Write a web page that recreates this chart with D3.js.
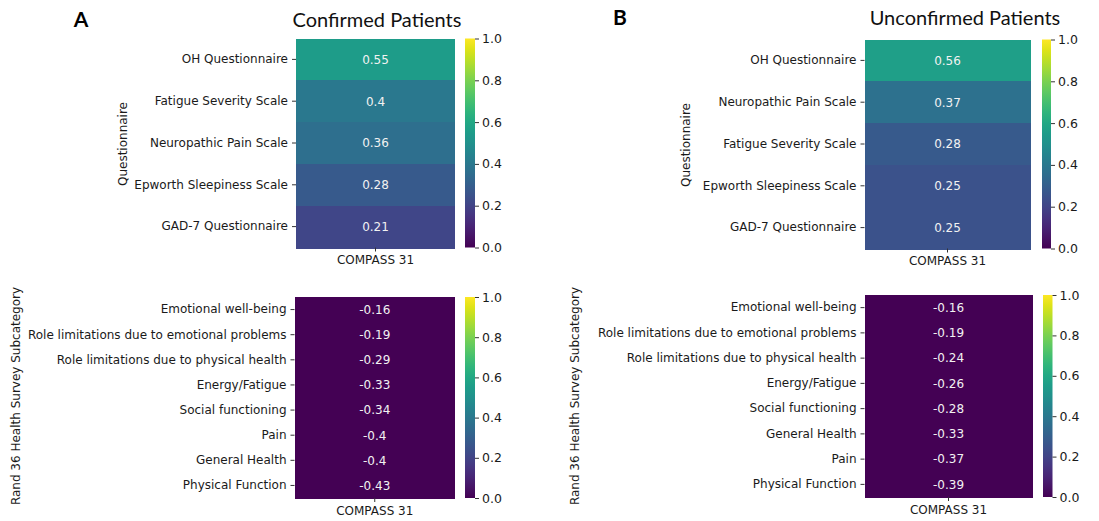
<!DOCTYPE html>
<html>
<head>
<meta charset="utf-8">
<script src="https://cdn.jsdelivr.net/npm/d3@7"></script>
<style>
  body { margin: 0; background: #fff; }
  svg text { font-family: "DejaVu Sans", sans-serif; }
</style>
</head>
<body>
<script>
// data
var column = ["COMPASS 31"];
var colorbarTicks = [0, 0.2, 0.4, 0.6, 0.8, 1.0];

var confirmedQuestions = ["OH Questionnaire", "Fatigue Severity Scale", "Neuropathic Pain Scale", "Epworth Sleepiness Scale", "GAD-7 Questionnaire"];
var confirmedQuestionValues = [0.55, 0.4, 0.36, 0.28, 0.21];

var confirmedRand = ["Emotional well-being", "Role limitations due to emotional problems", "Role limitations due to physical health", "Energy/Fatigue", "Social functioning", "Pain", "General Health", "Physical Function"];
var confirmedRandValues = [-0.16, -0.19, -0.29, -0.33, -0.34, -0.4, -0.4, -0.43];

var unconfirmedQuestions = ["OH Questionnaire", "Neuropathic Pain Scale", "Fatigue Severity Scale", "Epworth Sleepiness Scale", "GAD-7 Questionnaire"];
var unconfirmedQuestionValues = [0.56, 0.37, 0.28, 0.25, 0.25];

var unconfirmedRand = ["Emotional well-being", "Role limitations due to emotional problems", "Role limitations due to physical health", "Energy/Fatigue", "Social functioning", "General Health", "Pain", "Physical Function"];
var unconfirmedRandValues = [-0.16, -0.19, -0.24, -0.26, -0.28, -0.33, -0.37, -0.39];

var W = 1099, H = 521;
var svg = d3.select("body").append("svg").attr("width", W).attr("height", H);

var color = d3.scaleSequential(d3.interpolateViridis).domain([0, 1]).clamp(true);

var fs = 12;

function heatmap(opt) {
  var g = svg.append("g");
  var y = d3.scaleBand().domain(opt.rows).range([opt.y0, opt.y1]);
  var x = d3.scaleBand().domain(column).range([opt.x0, opt.x1]);
  var data = opt.rows.map(function(r, i) { return {row: r, value: opt.values[i]}; });

  g.selectAll("rect.cell").data(data).enter().append("rect")
    .attr("class", "cell")
    .attr("x", x(column[0]))
    .attr("y", function(d) { return y(d.row); })
    .attr("width", x.bandwidth())
    .attr("height", y.bandwidth() + 1)
    .attr("shape-rendering", "crispEdges")
    .attr("fill", function(d) { return color(d.value); });

  g.selectAll("text.annot").data(data).enter().append("text")
    .attr("class", "annot")
    .attr("x", x(column[0]) + x.bandwidth() / 2)
    .attr("y", function(d) { return y(d.row) + y.bandwidth() / 2; })
    .attr("dy", "0.36em")
    .attr("text-anchor", "middle")
    .attr("font-size", fs)
    .attr("fill", "#f2f2f2")
    .text(function(d) { return String(d.value); });

  // y axis
  var ya = g.append("g").attr("transform", "translate(" + opt.x0 + ",0)")
    .call(d3.axisLeft(y).tickSize(4).tickPadding(4));
  ya.select(".domain").remove();
  ya.selectAll("text").attr("font-size", fs).attr("fill", "#1a1a1a").style("font-family", "DejaVu Sans");
  ya.selectAll("line").attr("stroke", "#333");

  // x axis
  var xa = g.append("g").attr("transform", "translate(0," + opt.y1 + ")")
    .call(d3.axisBottom(x).tickSize(4).tickPadding(4));
  xa.select(".domain").remove();
  xa.selectAll("text").attr("font-size", fs).attr("fill", "#1a1a1a").style("font-family", "DejaVu Sans");
  xa.selectAll("line").attr("stroke", "#333");

  // y label
  g.append("text")
    .attr("transform", "translate(" + opt.labelX + "," + opt.labelY + ") rotate(-90)")
    .attr("text-anchor", "middle")
    .attr("dy", "0.36em")
    .attr("font-size", fs)
    .attr("fill", "#1a1a1a")
    .text(opt.label);

  // colorbar
  var cy = d3.scaleLinear().domain([0, 1]).range([opt.y1, opt.y0]);
  var gradId = "grad" + opt.id;
  var grad = svg.append("defs").append("linearGradient").attr("id", gradId)
    .attr("x1", 0).attr("y1", 1).attr("x2", 0).attr("y2", 0);
  d3.range(0, 1.0001, 0.05).forEach(function(t) {
    grad.append("stop").attr("offset", t).attr("stop-color", color(t));
  });
  g.append("rect")
    .attr("x", opt.cx0).attr("y", opt.y0)
    .attr("width", opt.cx1 - opt.cx0).attr("height", opt.y1 - opt.y0)
    .attr("fill", "url(#" + gradId + ")");
  var ca = g.append("g").attr("transform", "translate(" + opt.cx1 + ",0)")
    .call(d3.axisRight(cy).tickValues(colorbarTicks).tickFormat(d3.format(".1f")).tickSize(4).tickPadding(3));
  ca.select(".domain").remove();
  ca.selectAll("text").attr("font-size", fs + 0.5).attr("fill", "#1a1a1a").style("font-family", "DejaVu Sans");
  ca.selectAll("line").attr("stroke", "#333");
}

heatmap({id: 1, rows: confirmedQuestions, values: confirmedQuestionValues,
  x0: 296, x1: 455, y0: 38.5, y1: 247.5, cx0: 465, cx1: 475,
  label: "Questionnaire", labelX: 123, labelY: 144});
heatmap({id: 2, rows: confirmedRand, values: confirmedRandValues,
  x0: 294.5, x1: 455, y0: 297, y1: 498, cx0: 465, cx1: 475,
  label: "Rand 36 Health Survey Subcategory", labelX: 16, labelY: 396});
heatmap({id: 3, rows: unconfirmedQuestions, values: unconfirmedQuestionValues,
  x0: 864.5, x1: 1030.5, y0: 39.5, y1: 248.5, cx0: 1042, cx1: 1051,
  label: "Questionnaire", labelX: 686, labelY: 145});
heatmap({id: 4, rows: unconfirmedRand, values: unconfirmedRandValues,
  x0: 864.5, x1: 1032.5, y0: 295, y1: 497, cx0: 1043, cx1: 1052.5,
  label: "Rand 36 Health Survey Subcategory", labelX: 575, labelY: 396});

// titles and panel letters
svg.append("text").attr("x", 377).attr("y", 27).attr("text-anchor", "middle")
  .style("font-family", "Lato, 'Open Sans', sans-serif").attr("font-size", 20).attr("fill", "#111")
  .text("Confirmed Patients");
svg.append("text").attr("x", 965).attr("y", 25).attr("text-anchor", "middle")
  .style("font-family", "Lato, 'Open Sans', sans-serif").attr("font-size", 20).attr("fill", "#111")
  .text("Unconfirmed Patients");
svg.append("text").attr("x", 81).attr("y", 27).attr("text-anchor", "middle")
  .style("font-family", "Lato, 'Open Sans', sans-serif").attr("font-weight", "bold").attr("font-size", 21).attr("fill", "#000")
  .text("A");
svg.append("text").attr("x", 620).attr("y", 25).attr("text-anchor", "middle")
  .style("font-family", "Lato, 'Open Sans', sans-serif").attr("font-weight", "bold").attr("font-size", 21).attr("fill", "#000")
  .text("B");
</script>
</body>
</html>
